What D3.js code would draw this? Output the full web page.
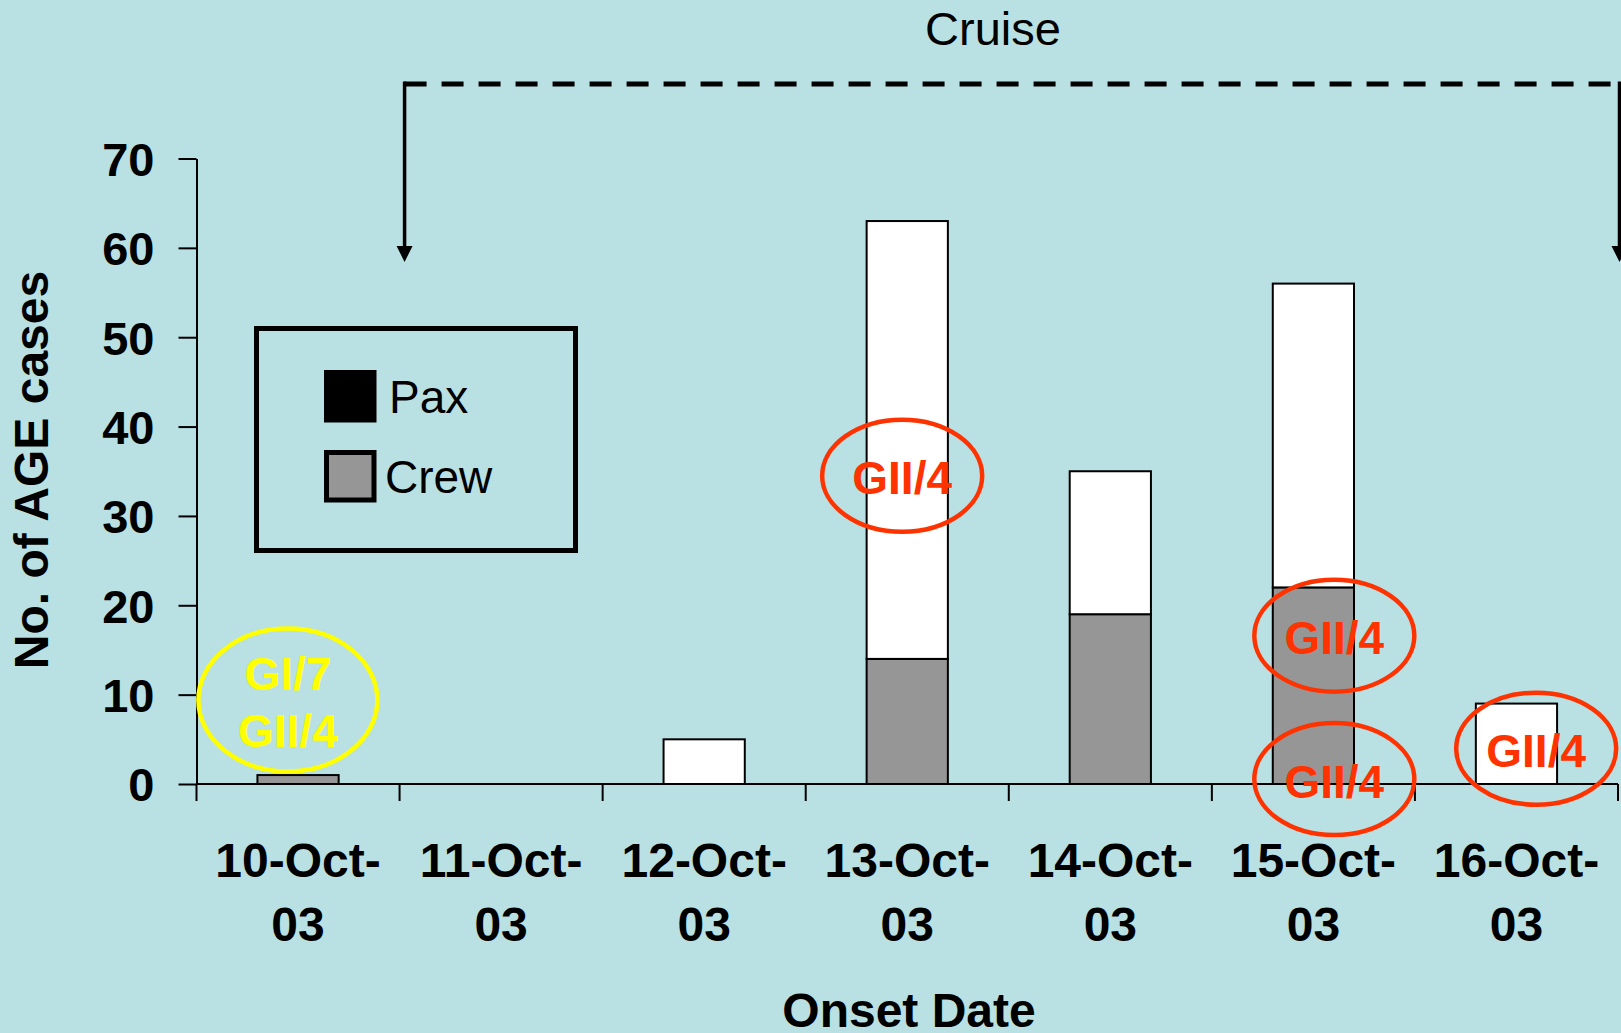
<!DOCTYPE html>
<html>
<head>
<meta charset="utf-8">
<script src="https://cdn.jsdelivr.net/npm/d3@7"></script>
<style>
  body { margin: 0; background: #b9e0e3; }
  text { font-family: "Liberation Sans", Arial, sans-serif; }
</style>
</head>
<body>
<script>
// onset dates and case counts
var dates = ["10-Oct-03", "11-Oct-03", "12-Oct-03", "13-Oct-03", "14-Oct-03", "15-Oct-03", "16-Oct-03"];
var crew = [1, 0, 0, 14, 19, 22, 0];
var pax = [0, 0, 5, 49, 16, 34, 9];
var yTicks = [0, 10, 20, 30, 40, 50, 60, 70];

// genotype notes: date, level on the y axis, text lines
var noteDates = ["10-Oct-03", "13-Oct-03", "15-Oct-03", "15-Oct-03", "16-Oct-03"];
var noteLevels = [9.4, 34.5, 16.6, 0.55, 3.95];
var noteLines = [["GI/7", "GII/4"], ["GII/4"], ["GII/4"], ["GII/4"], ["GII/4"]];

var cruiseFrom = "11-Oct-03";

var W = 1621, H = 1033;
var svg = d3.select("body").append("svg")
    .attr("width", W)
    .attr("height", H);

svg.append("rect")
    .attr("width", W)
    .attr("height", H)
    .attr("fill", "#b9e0e3");

var x = d3.scaleBand()
    .domain(dates)
    .range([196.5, 1618])
    .paddingInner(0.6)
    .paddingOuter(0.3);

var y = d3.scaleLinear()
    .domain([0, 70])
    .range([784, 158.5]);

var table = dates.map(function (d, i) {
    return { date: d, Crew: crew[i], Pax: pax[i] };
});
var series = d3.stack().keys(["Crew", "Pax"])(table);
var fills = { Crew: "#969696", Pax: "#ffffff" };

// bars
svg.append("g")
    .selectAll("g")
    .data(series)
    .enter()
    .append("g")
    .attr("fill", function (s) { return fills[s.key]; })
    .selectAll("rect")
    .data(function (s) { return s.filter(function (d) { return d[1] > d[0]; }); })
    .enter()
    .append("rect")
    .attr("x", function (d) { return x(d.data.date); })
    .attr("y", function (d) { return y(d[1]); })
    .attr("width", x.bandwidth())
    .attr("height", function (d) { return y(d[0]) - y(d[1]); })
    .attr("stroke", "#000")
    .attr("stroke-width", 2);

// y axis
var yAxis = svg.append("g")
    .attr("transform", "translate(196.5,0)")
    .call(d3.axisLeft(y).tickValues(yTicks).tickSize(18).tickSizeOuter(0).tickPadding(24));
yAxis.selectAll("path, line").attr("stroke", "#000").attr("stroke-width", 2);
yAxis.selectAll("text")
    .attr("dy", "0.36em")
    .style("font-size", "47px")
    .style("font-weight", "bold")
    .attr("fill", "#000");

// x axis: line, ticks between days, two-line labels
var x0 = x.range()[0];
var bounds = d3.range(dates.length + 1).map(function (i) { return x0 + i * x.step(); });

svg.append("line")
    .attr("x1", x0)
    .attr("x2", bounds[bounds.length - 1])
    .attr("y1", y(0))
    .attr("y2", y(0))
    .attr("stroke", "#000")
    .attr("stroke-width", 2);

svg.append("g")
    .selectAll("line")
    .data(bounds)
    .enter()
    .append("line")
    .attr("x1", function (d) { return d; })
    .attr("x2", function (d) { return d; })
    .attr("y1", y(0))
    .attr("y2", y(0) + 17)
    .attr("stroke", "#000")
    .attr("stroke-width", 2);

var xl = svg.append("g")
    .selectAll("text")
    .data(dates)
    .enter()
    .append("text")
    .attr("text-anchor", "middle")
    .style("font-size", "48px")
    .style("font-weight", "bold");
xl.append("tspan")
    .attr("x", function (d) { return x(d) + x.bandwidth() / 2; })
    .attr("y", y(0) + 93)
    .text(function (d) { return d.slice(0, 7); });
xl.append("tspan")
    .attr("x", function (d) { return x(d) + x.bandwidth() / 2; })
    .attr("y", y(0) + 157)
    .text(function (d) { return d.slice(7); });

// axis titles
svg.append("text")
    .attr("x", 909)
    .attr("y", 1027)
    .attr("text-anchor", "middle")
    .style("font-size", "48px")
    .style("font-weight", "bold")
    .text("Onset Date");

svg.append("text")
    .attr("transform", "translate(48,470) rotate(-90)")
    .attr("text-anchor", "middle")
    .style("font-size", "48px")
    .style("font-weight", "bold")
    .text("No. of AGE cases");

// legend
var lg = svg.append("g");
lg.append("rect")
    .attr("x", 256.5).attr("y", 328.5)
    .attr("width", 319).attr("height", 222)
    .attr("fill", "none")
    .attr("stroke", "#000")
    .attr("stroke-width", 5);
lg.append("rect")
    .attr("x", 324).attr("y", 370)
    .attr("width", 52.5).attr("height", 52.5)
    .attr("fill", "#000");
lg.append("rect")
    .attr("x", 326.5).attr("y", 452.5)
    .attr("width", 47.5).attr("height", 47.5)
    .attr("fill", "#969696")
    .attr("stroke", "#000")
    .attr("stroke-width", 5);
lg.append("text")
    .attr("x", 389).attr("y", 412.5)
    .style("font-size", "46px")
    .text("Pax");
lg.append("text")
    .attr("x", 385).attr("y", 492.5)
    .style("font-size", "46px")
    .text("Crew");

// cruise bracket
var bx1 = x0 + dates.indexOf(cruiseFrom) * x.step() + 5;
var bx2 = bounds[bounds.length - 1] + 1.5;
var by = 84, tip = 262;

svg.append("line")
    .attr("x1", bx1).attr("x2", W)
    .attr("y1", by).attr("y2", by)
    .attr("stroke", "#000")
    .attr("stroke-width", 5)
    .attr("stroke-dasharray", "22,15");

[bx1, bx2].forEach(function (bx) {
    svg.append("line")
        .attr("x1", bx).attr("x2", bx)
        .attr("y1", by - 2.5).attr("y2", tip - 14)
        .attr("stroke", "#000")
        .attr("stroke-width", 3.5);
    svg.append("path")
        .attr("d", "M" + (bx - 8) + "," + (tip - 16) + "L" + (bx + 8) + "," + (tip - 16) + "L" + bx + "," + tip + "Z")
        .attr("fill", "#000");
});

svg.append("text")
    .attr("x", 993)
    .attr("y", 45)
    .attr("text-anchor", "middle")
    .style("font-size", "47px")
    .text("Cruise");

// genotype ellipses
var shift = { "10-Oct-03": -0.05, "13-Oct-03": -0.025, "15-Oct-03": 0.103, "16-Oct-03": 0.097 };
noteDates.forEach(function (d, i) {
    var early = dates.indexOf(d) < dates.indexOf(cruiseFrom);
    var col = early ? "#ffff00" : "#ff3300";
    var cx = x(d) + x.bandwidth() / 2 + shift[d] * x.step();
    var cy = y(noteLevels[i]);
    var lines = noteLines[i];
    svg.append("ellipse")
        .attr("cx", cx).attr("cy", cy)
        .attr("rx", early ? 89.5 : 80)
        .attr("ry", early ? 71.5 : 56)
        .attr("fill", "none")
        .attr("stroke", col)
        .attr("stroke-width", 4.5);
    lines.forEach(function (t, k) {
        svg.append("text")
            .attr("x", cx)
            .attr("y", cy + 18.5 - (lines.length - 1) * 28.5 + k * 57)
            .attr("text-anchor", "middle")
            .style("font-size", "46px")
            .style("font-weight", "bold")
            .attr("fill", col)
            .text(t);
    });
});
</script>
</body>
</html>
